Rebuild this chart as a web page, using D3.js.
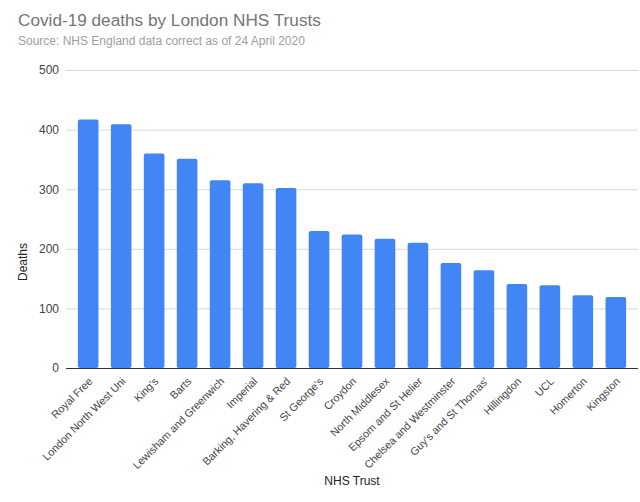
<!DOCTYPE html>
<html><head><meta charset="utf-8">
<script src="https://cdn.jsdelivr.net/npm/d3@7"></script>
<style>body{margin:0;background:#fff;}svg{display:block;font-family:Arial,"Liberation Sans",sans-serif;}</style>
</head><body><svg id="c" width="640" height="502"></svg>
<script>
const categories = ["Royal Free","London North West Uni","King's","Barts","Lewisham and Greenwich","Imperial","Barking, Havering & Red","St George's","Croydon","North Middlesex","Epsom and St Helier","Chelsea and Westminster","Guy's and St Thomas'","Hillingdon","UCL","Homerton","Kingston"];
const deaths = [417,409,360,351,315,310,302,230,224,217,210,176,164,141,139,122,119];
const yTicks = [0,100,200,300,400,500];

const svg = d3.select("#c");
const m = {left:66, right:2, top:70, bottom:134};
const W = 640, H = 502;
const x = d3.scaleBand().domain(categories).range([m.left, W - m.right]).paddingInner(0.375).paddingOuter(0.36);
const y = d3.scaleLinear().domain([0,500]).range([H - m.bottom, m.top]);

svg.append("text").attr("x",18).attr("y",26).attr("font-size",17.2).attr("fill","#757575").text("Covid-19 deaths by London NHS Trusts");
svg.append("text").attr("x",18).attr("y",45).attr("font-size",12).attr("fill","#9e9e9e").text("Source: NHS England data correct as of 24 April 2020");

const ya = svg.append("g").attr("transform",`translate(${m.left},0)`)
  .call(d3.axisLeft(y).tickValues(yTicks).tickSize(-(W - m.right - m.left)).tickPadding(7));
ya.select(".domain").remove();
ya.selectAll(".tick line").attr("stroke","#d9d9d9");
ya.selectAll(".tick text").attr("font-size",12).attr("fill","#444").attr("font-family","Arial,'Liberation Sans',sans-serif");

svg.append("g").selectAll("rect").data(deaths).join("rect")
  .attr("x",(d,i)=>x(categories[i])).attr("width",x.bandwidth())
  .attr("y",d=>y(d)).attr("height",d=>y(0)-y(d))
  .attr("rx",2).attr("fill","#4285f4");

const xa = svg.append("g").attr("transform",`translate(0,${y(0)})`)
  .call(d3.axisBottom(x).tickSize(0).tickPadding(0));
xa.select(".domain").attr("stroke","#333").attr("d",`M${m.left},0.5H${W - m.right}`);
xa.selectAll(".tick text").attr("font-size",10.8).attr("fill","#444")
  .attr("font-family","Arial,'Liberation Sans',sans-serif")
  .attr("text-anchor","end").attr("dy",0)
  .attr("transform","translate(5,14) rotate(-45)");

svg.append("text").attr("x",23).attr("y",262).attr("font-size",12).attr("fill","#222")
  .attr("text-anchor","middle").attr("transform","rotate(-90,23,262)").attr("dy","0.35em").text("Deaths");
svg.append("text").attr("x",352).attr("y",485).attr("font-size",12).attr("fill","#222")
  .attr("text-anchor","middle").text("NHS Trust");
</script></body></html>
